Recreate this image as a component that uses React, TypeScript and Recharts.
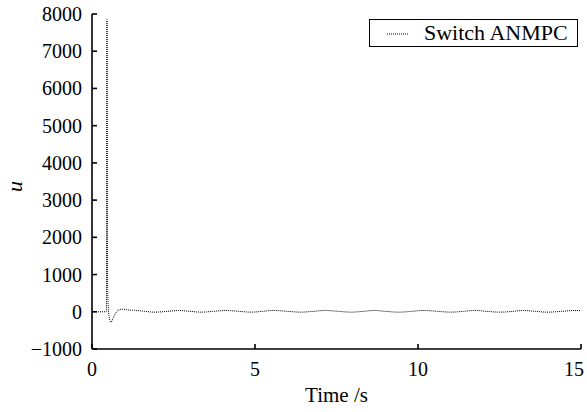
import React from "react";
import {
  LineChart,
  Line,
  XAxis,
  YAxis,
  Legend,
} from "recharts";

// control signal u over time
const timeS = [
  0, 0.2, 0.44, 0.46, 0.48, 0.52, 0.58, 0.66, 0.75, 0.85, 0.95, 1.1,
  1.3, 1.6, 1.9, 2.3, 2.65, 3.0, 3.35, 3.7, 4.1, 4.5, 4.9, 5.2, 5.55,
  6.0, 6.4, 6.8, 7.15, 7.55, 7.95, 8.3, 8.65, 9.0, 9.4, 9.8, 10.15,
  10.6, 11.0, 11.4, 11.75, 12.1, 12.5, 12.9, 13.2, 13.6, 13.95, 14.4,
  14.8, 15,
];
const uValues = [
  0, 0, 0, 7850, 600, -100, -280, -150, 0, 60, 70, 50,
  40, 15, -10, 10, 35, 12, -10, 10, 35, 12, -10, 10, 35,
  12, -10, 12, 35, 12, -10, 10, 35, 12, -10, 10, 35,
  12, -10, 12, 35, 12, -10, 10, 35, 12, -10, 10,
  35, 30,
];

const xTicks = [0, 5, 10, 15];
const yTicks = [-1000, 0, 1000, 2000, 3000, 4000, 5000, 6000, 7000, 8000];
const seriesName = "Switch ANMPC";

const data = timeS.map((t, i) => ({ t, u: uValues[i] }));

const FONT = "'Liberation Serif', 'Times New Roman', serif";

const fmt = (v: number) => (v < 0 ? `\u2212${-v}` : `${v}`);

function XTick({ x, y, payload }: any) {
  // last label sits flush with the right edge, as in the original
  const last = payload.value === xTicks[xTicks.length - 1];
  return (
    <text
      x={last ? x + 5 : x}
      y={y}
      dy={14}
      textAnchor={last ? "end" : "middle"}
      style={{ fontFamily: FONT }}
      fontSize={20}
      fill="#000"
    >
      {fmt(payload.value)}
    </text>
  );
}

function YTick({ x, y, payload }: any) {
  return (
    <text x={x} y={y} dy={7} textAnchor="end" style={{ fontFamily: FONT }} fontSize={20} fill="#000">
      {fmt(payload.value)}
    </text>
  );
}

function LegendBox() {
  return (
    <div
      style={{
        width: 209,
        height: 28,
        boxSizing: "border-box",
        border: "1.3px solid #000",
        background: "#fff",
        display: "flex",
        alignItems: "center",
        fontFamily: FONT,
        fontSize: 22,
        color: "#000",
      }}
    >
      <svg width={54} height={20} style={{ flexShrink: 0 }}>
        <line x1={17} y1={11} x2={38} y2={11} stroke="#000" strokeWidth={1} strokeDasharray="1 1" />
      </svg>
      <span style={{ lineHeight: "28px", whiteSpace: "nowrap" }}>{seriesName}</span>
    </div>
  );
}

const axisStroke = { stroke: "#000", strokeWidth: 1.6 };

export default function App() {
  return (
    <div style={{ position: "absolute", left: 0, top: 0, width: 587, height: 412, background: "#fff" }}>
      <LineChart
        width={587}
        height={412}
        data={data}
        margin={{ top: 14, right: 6, bottom: 0, left: 0 }}
        style={{ fontFamily: FONT }}
      >
        <XAxis
          dataKey="t"
          type="number"
          domain={[0, 15]}
          ticks={xTicks}
          height={63}
          tickSize={-5}
          tickMargin={18}
          tick={<XTick />}
          axisLine={axisStroke}
          tickLine={axisStroke}
          label={{
            value: "Time /s",
            position: "insideBottom",
            content: ({ viewBox }: any) => (
              <text
                x={viewBox.x + viewBox.width / 2}
                y={viewBox.y + viewBox.height - 10}
                textAnchor="middle"
                style={{ fontFamily: FONT }}
                fontSize={21}
                fill="#000"
              >
                Time /s
              </text>
            ),
          }}
        />
        <XAxis
          xAxisId="top"
          orientation="top"
          dataKey="t"
          type="number"
          domain={[0, 15]}
          ticks={xTicks}
          height={0}
          tickSize={-5}
          tick={false}
          axisLine={axisStroke}
          tickLine={axisStroke}
        />
        <YAxis
          type="number"
          domain={[-1000, 8000]}
          ticks={yTicks}
          width={92}
          tickSize={-5}
          tickMargin={15}
          tick={<YTick />}
          axisLine={axisStroke}
          tickLine={axisStroke}
          label={{
            value: "u",
            position: "insideLeft",
            content: ({ viewBox }: any) => (
              <text
                transform={`translate(${viewBox.x + 22}, ${viewBox.y + viewBox.height / 2 + 5}) rotate(-90)`}
                textAnchor="middle"
                style={{ fontFamily: FONT, fontStyle: "italic" }}
                fontSize={22}
                fill="#000"
              >
                u
              </text>
            ),
          }}
        />
        <YAxis
          yAxisId="right"
          orientation="right"
          type="number"
          domain={[-1000, 8000]}
          ticks={yTicks}
          width={0}
          tickSize={-5}
          tick={false}
          axisLine={axisStroke}
          tickLine={axisStroke}
        />
        <Legend
          layout="vertical"
          align="center"
          verticalAlign="middle"
          wrapperStyle={{ top: 19, left: 369, width: 209 }}
          content={() => <LegendBox />}
        />
        <Line
          dataKey="u"
          name={seriesName}
          type="monotone"
          stroke="#000"
          strokeWidth={1}
          strokeDasharray="1 1"
          dot={false}
          isAnimationActive={false}
        />
      </LineChart>
    </div>
  );
}
